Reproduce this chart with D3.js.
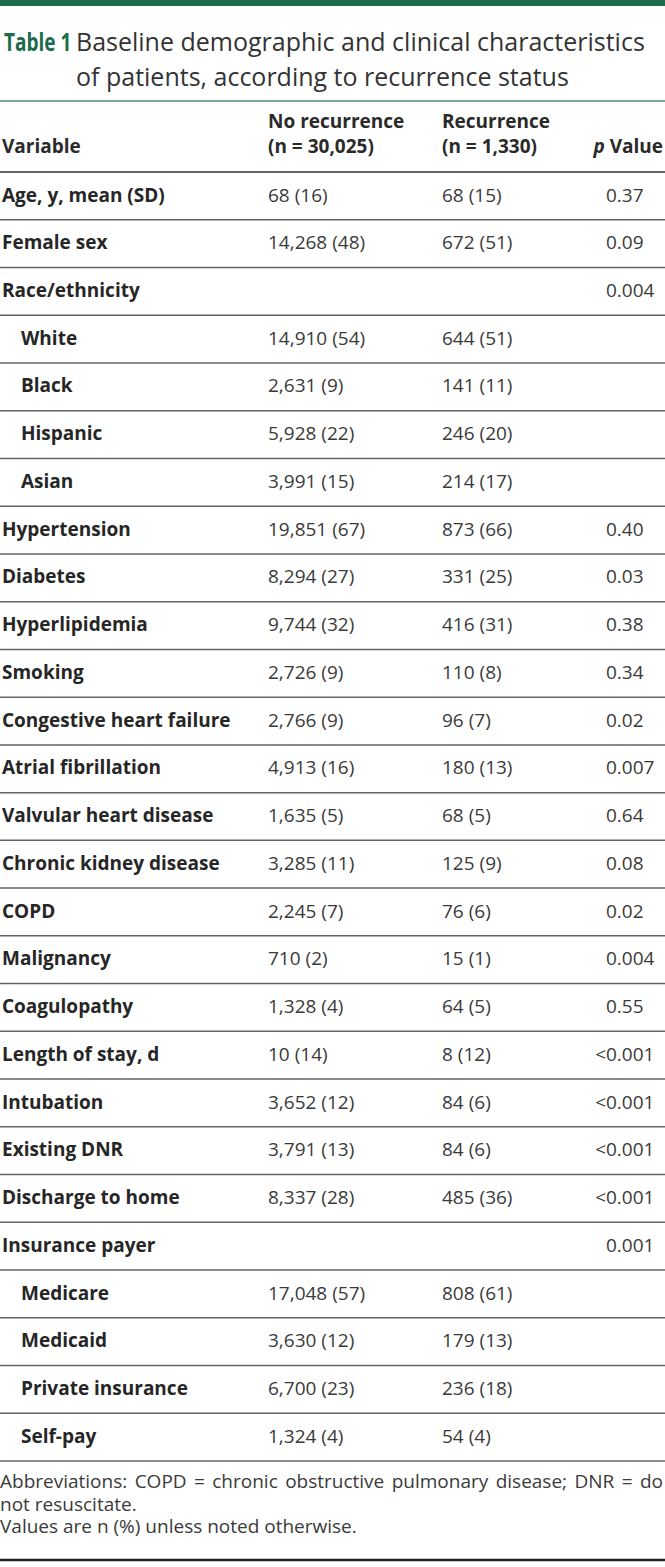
<!DOCTYPE html>
<html><head><meta charset="utf-8">
<script src="https://cdn.jsdelivr.net/npm/d3@7"></script>
<style>
html,body{margin:0;padding:0;background:#fff;}
svg{display:block;font-family:"Open Sans",sans-serif;}
.fn{font-family:"Open Sans",sans-serif;font-size:19px;line-height:22.5px;color:#3a3a3a;text-align:justify;white-space:pre-line;margin:0;padding:0;width:663px;}
</style></head>
<body>
<svg id="chart" width="665" height="1567"></svg>
<script>
const variables = ["Age, y, mean (SD)","Female sex","Race/ethnicity","White","Black","Hispanic","Asian","Hypertension","Diabetes","Hyperlipidemia","Smoking","Congestive heart failure","Atrial fibrillation","Valvular heart disease","Chronic kidney disease","COPD","Malignancy","Coagulopathy","Length of stay, d","Intubation","Existing DNR","Discharge to home","Insurance payer","Medicare","Medicaid","Private insurance","Self-pay"];
const indented = [0,0,0,1,1,1,1,0,0,0,0,0,0,0,0,0,0,0,0,0,0,0,0,1,1,1,1];
const noRecurrence = ["68 (16)","14,268 (48)","","14,910 (54)","2,631 (9)","5,928 (22)","3,991 (15)","19,851 (67)","8,294 (27)","9,744 (32)","2,726 (9)","2,766 (9)","4,913 (16)","1,635 (5)","3,285 (11)","2,245 (7)","710 (2)","1,328 (4)","10 (14)","3,652 (12)","3,791 (13)","8,337 (28)","","17,048 (57)","3,630 (12)","6,700 (23)","1,324 (4)"];
const recurrence = ["68 (15)","672 (51)","","644 (51)","141 (11)","246 (20)","214 (17)","873 (66)","331 (25)","416 (31)","110 (8)","96 (7)","180 (13)","68 (5)","125 (9)","76 (6)","15 (1)","64 (5)","8 (12)","84 (6)","84 (6)","485 (36)","","808 (61)","179 (13)","236 (18)","54 (4)"];
const pValues = ["0.37","0.09","0.004","","","","","0.40","0.03","0.38","0.34","0.02","0.007","0.64","0.08","0.02","0.004","0.55","<0.001","<0.001","<0.001","<0.001","0.001","","","",""];
const headerLine1 = ["", "No recurrence", "Recurrence", ""];
const headerLine2 = ["Variable", "(n = 30,025)", "(n = 1,330)", "Value"];
const titleLabel = "Table 1";
const titleLines = ["Baseline demographic and clinical characteristics","of patients, according to recurrence status"];
const footnotes = ["Abbreviations: COPD = chronic obstructive pulmonary disease; DNR = do not resuscitate.","Values are n (%) unless noted otherwise."];

const svg = d3.select("#chart");
const W = 665;
const green = "#1c6b4c";
const FS = 19;

// top bar
svg.append("rect").attr("x",0).attr("y",0).attr("width",W).attr("height",6).attr("fill",green);

// title
svg.append("text").attr("transform","translate(4,51) scale(0.76,1)")
  .attr("font-size",25).attr("font-weight",700).attr("fill",green).text(titleLabel);
const title = svg.append("text").attr("font-size",25).attr("fill","#333");
title.selectAll("tspan").data(titleLines).join("tspan")
  .attr("x",76).attr("y",(d,i)=>51+i*35).text(d=>d);

svg.append("line").attr("x1",0).attr("x2",W).attr("y1",101).attr("y2",101)
  .attr("stroke","#4f8a74").attr("stroke-width",1.5);

const cols = ["var","noRec","rec","p"];
const x = d3.scaleOrdinal().domain(cols).range([2,268,442,606]);

// header
const hdr = svg.append("g").attr("font-size",FS).attr("font-weight",700).attr("fill","#2a2a2a");
hdr.selectAll("text.h1").data(headerLine1).join("text").attr("class","h1")
  .attr("x",(d,i)=>x(cols[i])).attr("y",128).text(d=>d);
hdr.selectAll("text.h2").data(headerLine2).join("text").attr("class","h2")
  .attr("x",(d,i)=>i===3?663:x(cols[i])).attr("y",153)
  .attr("text-anchor",(d,i)=>i===3?"end":"start")
  .each(function(d,i){
    const t=d3.select(this);
    if(i===3){ t.append("tspan").attr("font-style","italic").text("p"); t.append("tspan").text(" "+d); }
    else t.text(d);
  });

const y = d3.scaleBand().domain(d3.range(variables.length)).range([172,1461]);

svg.append("line").attr("x1",0).attr("x2",W).attr("y1",172).attr("y2",172)
  .attr("stroke","#333").attr("stroke-width",1.6);

const rows = svg.append("g").selectAll("g").data(variables).join("g")
  .attr("transform",(d,i)=>`translate(0,${y(i)})`);
rows.append("line").attr("x1",0).attr("x2",W).attr("y1",y.bandwidth()).attr("y2",y.bandwidth())
  .attr("stroke","#636363").attr("stroke-width",1.5);
rows.append("text").attr("x",(d,i)=>x("var")+(indented[i]?19:0)).attr("y",29.5)
  .attr("font-size",FS).attr("font-weight",700).attr("fill","#262626").text(d=>d);
rows.append("text").attr("x",x("noRec")).attr("y",29.5).attr("font-size",FS).attr("fill","#3a3a3a")
  .text((d,i)=>noRecurrence[i]);
rows.append("text").attr("x",x("rec")).attr("y",29.5).attr("font-size",FS).attr("fill","#3a3a3a")
  .text((d,i)=>recurrence[i]);
rows.append("text").attr("x",x("p")).attr("y",29.5).attr("font-size",FS).attr("fill","#3a3a3a")
  .text((d,i)=>pValues[i])
  .each(function(d,i){
    if(pValues[i].startsWith("<")){
      const w=this.getSubStringLength(0,1);
      d3.select(this).attr("x",x("p")-w);
    }
  });

// footnotes as a single wrapped text block
const fo = svg.append("foreignObject").attr("x",0).attr("y",1470).attr("width",665).attr("height",80);
fo.append("xhtml:div").attr("class","fn").text(footnotes.join("\n"));

svg.append("line").attr("x1",0).attr("x2",W).attr("y1",1560).attr("y2",1560)
  .attr("stroke","#222").attr("stroke-width",2.5);
</script>
</body></html>
